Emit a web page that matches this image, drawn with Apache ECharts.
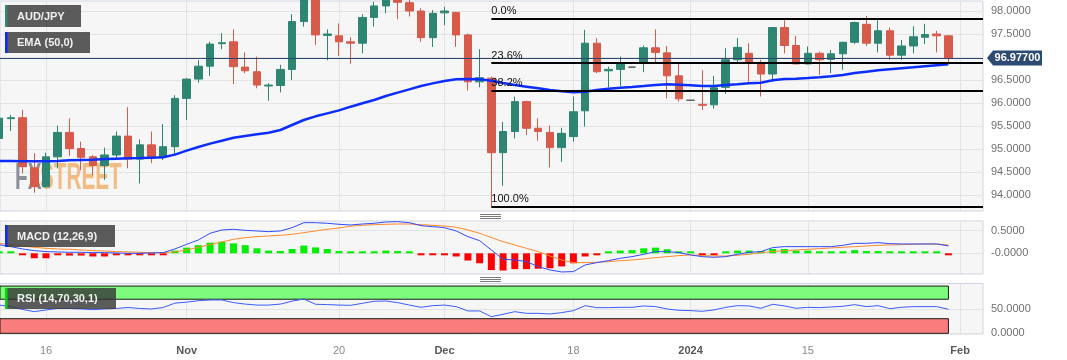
<!DOCTYPE html>
<html>
<head>
<meta charset="utf-8">
<script src="https://cdn.jsdelivr.net/npm/echarts@6.0.0/dist/echarts.min.js"></script>
<style>html,body{margin:0;padding:0;background:#fff}#c{width:1067px;height:360px}</style>
</head>
<body>
<div id="c"></div>
<script>
// ---------------- data ----------------
const dates = ['2023-10-10','2023-10-11','2023-10-12','2023-10-13','2023-10-16','2023-10-17','2023-10-18','2023-10-19','2023-10-20','2023-10-23','2023-10-24','2023-10-25','2023-10-26','2023-10-27','2023-10-30','2023-10-31','2023-11-01','2023-11-02','2023-11-03','2023-11-06','2023-11-07','2023-11-08','2023-11-09','2023-11-10','2023-11-13','2023-11-14','2023-11-15','2023-11-16','2023-11-17','2023-11-20','2023-11-21','2023-11-22','2023-11-23','2023-11-24','2023-11-27','2023-11-28','2023-11-29','2023-11-30','2023-12-01','2023-12-04','2023-12-05','2023-12-06','2023-12-07','2023-12-08','2023-12-11','2023-12-12','2023-12-13','2023-12-14','2023-12-15','2023-12-18','2023-12-19','2023-12-20','2023-12-21','2023-12-22','2023-12-25','2023-12-26','2023-12-27','2023-12-28','2023-12-29','2024-01-01','2024-01-02','2024-01-03','2024-01-04','2024-01-05','2024-01-08','2024-01-09','2024-01-10','2024-01-11','2024-01-12','2024-01-15','2024-01-16','2024-01-17','2024-01-18','2024-01-19','2024-01-22','2024-01-23','2024-01-24','2024-01-25','2024-01-26','2024-01-29','2024-01-30','2024-01-31'];

const open = [95.23,95.66,95.68,94.59,94.18,94.83,95.36,95.01,94.83,94.64,
  94.87,95.28,94.78,95.09,94.82,95.05,96.10,96.52,96.80,97.29,
  97.33,96.78,96.68,96.37,96.38,96.73,97.77,98.35,97.47,97.46,
  97.33,97.30,97.86,98.11,98.30,98.18,98.00,97.42,97.96,97.97,
  97.48,96.46,96.54,94.92,95.38,96.03,95.45,95.36,95.03,95.27,
  95.83,97.30,96.70,96.73,96.78,96.88,97.20,97.09,96.59,96.06,
  95.97,95.96,96.34,96.94,97.08,96.85,96.63,97.64,97.25,96.85,
  97.08,96.95,97.07,97.32,97.71,97.30,97.57,97.04,97.24,97.43,
  97.50,97.46];
const high = [95.74,95.74,95.85,94.91,94.92,95.51,95.67,95.16,94.87,95.03,
  95.38,95.91,95.21,95.38,95.54,96.17,96.54,96.93,97.33,97.52,
  97.60,97.10,97.01,96.43,96.83,97.93,98.45,98.55,97.60,97.73,
  97.43,97.93,98.20,98.40,98.45,98.30,98.06,98.02,98.09,97.98,
  97.51,97.17,96.57,95.59,96.14,96.05,95.67,95.51,95.46,96.14,
  97.59,97.41,96.79,97.01,96.78,97.25,97.60,97.24,96.88,96.06,
  96.71,96.59,97.19,97.41,97.30,96.94,97.65,97.80,97.46,97.23,
  97.12,97.15,97.33,97.77,97.89,97.80,97.64,97.37,97.67,97.72,
  97.57,97.48];
const low = [95.16,95.39,94.47,94.05,94.16,94.58,94.85,94.54,94.43,94.33,
  94.76,94.58,94.25,94.69,94.76,94.87,95.63,96.44,96.59,97.17,
  96.41,96.65,96.32,96.05,96.23,96.50,97.66,97.26,96.93,97.02,
  96.85,97.08,97.66,97.95,97.82,97.88,97.33,97.22,97.69,97.22,
  96.27,96.34,93.75,94.20,95.23,95.30,95.18,94.60,94.72,95.16,
  95.49,96.65,96.34,96.37,96.78,96.67,96.88,96.10,96.03,96.06,
  95.85,95.88,96.20,96.88,96.46,96.14,96.46,97.08,96.84,96.84,
  96.61,96.65,96.72,97.28,97.24,97.10,96.94,96.94,97.08,97.28,
  97.10,96.86];
const close = [95.67,95.68,94.62,94.18,94.83,95.36,95.01,94.82,94.64,94.87,
  95.28,94.78,95.09,94.82,95.05,96.10,96.52,96.80,97.28,97.31,
  96.79,96.70,96.39,96.39,96.73,97.77,98.35,97.48,97.50,97.33,
  97.30,97.86,98.11,98.30,98.19,98.00,97.42,97.95,98.00,97.48,
  96.46,96.55,94.92,95.38,96.03,95.45,95.38,95.03,95.34,95.81,
  97.30,96.68,96.73,96.85,96.78,97.20,97.10,96.59,96.09,96.06,
  95.95,96.33,96.94,97.21,96.88,96.63,97.64,97.25,96.85,97.08,
  96.94,97.07,97.32,97.75,97.30,97.57,97.04,97.24,97.44,97.49,
  97.46,96.977];
const ema50 = [94.739,94.739,94.732,94.732,94.732,94.739,94.754,94.761,94.768,94.783,
  94.790,94.797,94.804,94.812,94.819,94.877,94.964,95.043,95.116,95.181,
  95.246,95.283,95.319,95.355,95.413,95.522,95.630,95.710,95.775,95.840,
  95.920,95.993,96.065,96.152,96.225,96.297,96.369,96.427,96.478,96.514,
  96.522,96.514,96.485,96.435,96.391,96.355,96.319,96.283,96.254,96.232,
  96.246,96.283,96.311,96.333,96.348,96.369,96.391,96.406,96.398,96.384,
  96.369,96.369,96.391,96.406,96.427,96.442,96.493,96.522,96.529,96.543,
  96.558,96.580,96.609,96.652,96.681,96.710,96.732,96.754,96.775,96.797,
  96.819,96.840];
const macdLine = [0.19,0.147,0.096,0.059,0.037,0.03,0.022,0.022,0.015,0.015,
  0.007,0,0,0.007,0.015,0.096,0.199,0.294,0.441,0.515,
  0.53,0.507,0.493,0.478,0.493,0.566,0.676,0.676,0.662,0.64,
  0.625,0.647,0.662,0.691,0.699,0.676,0.61,0.588,0.566,0.493,
  0.368,0.279,0.074,-0.132,-0.147,-0.184,-0.294,-0.368,-0.412,-0.404,
  -0.257,-0.206,-0.162,-0.11,-0.074,-0.022,0.037,0.037,0.015,-0.037,
  -0.074,-0.088,-0.074,-0.022,0.022,0.037,0.125,0.147,0.147,0.147,
  0.147,0.147,0.176,0.22,0.22,0.235,0.213,0.206,0.206,0.206,
  0.206,0.162];
const signalLine = [0.22,0.19,0.162,0.132,0.11,0.096,0.088,0.074,0.059,0.051,
  0.037,0.03,0.022,0.015,0.015,0.03,0.074,0.132,0.191,0.25,
  0.309,0.346,0.368,0.382,0.397,0.419,0.456,0.493,0.53,0.559,
  0.6,0.618,0.632,0.64,0.647,0.647,0.632,0.618,0.603,0.574,
  0.515,0.441,0.346,0.257,0.184,0.11,0.037,-0.059,-0.147,-0.206,
  -0.206,-0.199,-0.184,-0.162,-0.147,-0.125,-0.096,-0.074,-0.051,-0.037,
  -0.051,-0.059,-0.059,-0.044,-0.022,0.015,0.037,0.059,0.074,0.088,
  0.103,0.118,0.132,0.147,0.162,0.176,0.184,0.191,0.199,0.206,
  0.206,0.184];
const histogram = [0.01,0.005,-0.03,-0.11,-0.11,-0.03,-0.05,-0.05,-0.07,-0.07,
  -0.02,-0.02,-0.02,-0.02,-0.02,0.06,0.125,0.18,0.235,0.257,
  0.22,0.18,0.11,0.06,0.05,0.095,0.17,0.13,0.095,0.05,
  0.035,0.02,0.02,0.06,0.05,0.02,-0.03,-0.03,-0.04,-0.07,
  -0.16,-0.22,-0.37,-0.38,-0.35,-0.35,-0.34,-0.33,-0.29,-0.22,
  -0.07,-0.01,0.03,0.06,0.07,0.11,0.125,0.09,0.04,0.01,
  -0.02,-0.02,0.01,0.06,0.06,0.05,0.095,0.095,0.06,0.06,
  0.035,0.035,0.035,0.07,0.05,0.05,0.01,0.01,0.01,0.01,
  0.005,-0.02];
const rsi = [58,55,49,44.5,48,51,51,50,48.6,50,
  51,53,51,50,53,62,64,67,68.5,68.5,
  63,60,58,58,60,66,70.5,59.6,59,58,
  57.5,61.6,65.8,66.4,63,58,53.4,56.8,58,54.8,
  45.9,45.9,34.2,39,44.5,41,41,39.7,42.5,46.6,
  56.8,52.7,52.7,53.4,53.4,56.2,54.8,50,47.3,46.6,
  45.2,48,53.4,56.8,56.2,51.4,59.6,56.2,51.4,53.4,
  52.7,54.1,55.5,58.9,54.8,56.8,50.7,53.4,54.8,54.8,
  54.8,49.3];

const xTickIdx = [4, 16, 29, 38, 49, 59, 69, 82];
const xTickLabels = ['16', 'Nov', '20', 'Dec', '18', '2024', '15', 'Feb'];
const xTickMajor = [false, true, false, true, false, true, false, true];
const priceTicks = [94, 94.5, 95, 95.5, 96, 96.5, 97, 97.5, 98];
const macdTicks = [0, 0.5];
const macdTickLabels = ['-0.0000', '0.5000'];
const rsiTicks = [0, 50];
const rsiTickLabels = ['0.0000', '50.0000'];
const fibHigh = 97.833, fibLow = 93.745, fibStartIdx = 42;
const fibPcts = [0, 23.6, 38.2, 100];
const lastPrice = 96.977;
const rsiUpper = 70, rsiBandTop = 97, rsiLower = 30, rsiBandBottom = 0;

// ---------------- chart ----------------
const FONT = '"Liberation Sans", Arial, sans-serif';
const GRID_LINE = '#e3e3e3';
const X_MIN = 0.075, X_MAX = 83.95;
const UP = '#2e8672', DOWN = '#d75a4a', FLAT = '#555555';

const fibLevels = fibPcts.map(p => fibHigh - (fibHigh - fibLow) * p / 100);

function xAxis(gi, labels) {
  return {
    type: 'value', gridIndex: gi, min: X_MIN, max: X_MAX,
    axisLine: { show: false },
    axisTick: { show: false, customValues: xTickIdx },
    splitLine: { show: true, lineStyle: { color: GRID_LINE, width: 1 } },
    axisLabel: {
      show: labels, customValues: xTickIdx, margin: 11,
      formatter: v => {
        const k = xTickIdx.indexOf(Math.round(v));
        if (k < 0) return '';
        return (xTickMajor[k] ? '{b|' : '{n|') + xTickLabels[k] + '}';
      },
      rich: {
        b: { fontFamily: FONT, fontSize: 11, fontWeight: 'bold', color: '#585858' },
        n: { fontFamily: FONT, fontSize: 11, color: '#8a8a8a' }
      }
    }
  };
}
function yAxis(gi, min, max, ticks, fmt) {
  return {
    type: 'value', gridIndex: gi, position: 'right', min, max, scale: true,
    axisLine: { show: false },
    axisTick: { show: false, customValues: ticks },
    splitLine: { show: true, lineStyle: { color: GRID_LINE, width: 1 } },
    axisLabel: { customValues: ticks, formatter: fmt, color: '#707070', fontSize: 11, fontFamily: FONT, margin: 8 }
  };
}
const gridBase = { left: 0, width: 983, show: true, backgroundColor: '#f6f6f6', borderColor: '#cfd5e2', borderWidth: 1 };

const candleData = dates.map((d, i) => {
  const item = { value: [i, open[i], close[i], low[i], high[i]] };
  if (open[i] === close[i] && high[i] === low[i]) {
    item.itemStyle = { color: FLAT, color0: FLAT, borderColor: FLAT, borderColor0: FLAT, borderColorDoji: FLAT };
  }
  return item;
});

function labelBox(x, y, w, h, bar, text) {
  return {
    type: 'group', x, y, z: 50, silent: true,
    children: [
      { type: 'rect', z: 50, shape: { x: 0, y: 0, width: w, height: h }, style: { fill: 'rgba(52,52,52,0.8)' } },
      { type: 'rect', z: 51, shape: { x: 0, y: 0, width: 2.5, height: h }, style: { fill: bar } },
      { type: 'text', z: 52, x: 12, y: h / 2 + 0.5, style: { text, fill: '#f0f0f0', font: 'bold 11px ' + FONT, verticalAlign: 'middle' } }
    ]
  };
}
const grips = [214, 216, 218, 277, 279, 281].map(y => ({
  type: 'line', z: 50, silent: true,
  shape: { x1: 480, y1: y + 0.5, x2: 501, y2: y + 0.5 },
  style: { stroke: '#7a7a7a', lineWidth: 1 }
}));

const WM_FONT = 'bold 37px "Liberation Sans Narrow", "Liberation Sans", sans-serif';
const option = {
  animation: false,
  backgroundColor: '#ffffff',
  grid: [
    Object.assign({}, gridBase, { top: 1, height: 210 }),
    Object.assign({}, gridBase, { top: 221, height: 53 }),
    Object.assign({}, gridBase, { top: 283.5, height: 50.5 })
  ],
  xAxis: [xAxis(0, false), xAxis(1, false), xAxis(2, true)],
  yAxis: [
    yAxis(0, 93.652, 98.2174, priceTicks, v => v.toFixed(4)),
    yAxis(1, -0.457, 0.713, macdTicks, v => macdTickLabels[macdTicks.indexOf(v)] || ''),
    yAxis(2, -1.4, 102.3, rsiTicks, v => rsiTickLabels[rsiTicks.indexOf(v)] || '')
  ],
  graphic: [
    {
      type: 'text', x: 15, y: 178.5, scaleX: 0.56, z: 1, silent: true,
      style: { text: 'FX', font: WM_FONT, fill: 'rgba(128,133,143,0.9)', verticalAlign: 'middle' }
    },
    {
      type: 'text', x: 40, y: 178.5, scaleX: 0.56, z: 1, silent: true,
      style: { text: 'STREET', font: WM_FONT, fill: 'rgba(240,172,100,0.8)', verticalAlign: 'middle' }
    },
    labelBox(5, 5, 76, 22, '#2e8b73', 'AUD/JPY'),
    labelBox(5, 32, 85, 21, '#0a2cff', 'EMA (50,0)'),
    labelBox(5, 225, 110, 22, '#0a2cff', 'MACD (12,26,9)'),
    labelBox(5, 288, 111, 21, '#00dd00', 'RSI (14,70,30,1)')
  ].concat(grips),
  series: [
    {
      type: 'candlestick', xAxisIndex: 0, yAxisIndex: 0, z: 3,
      encode: { x: 0, y: [1, 2, 3, 4] },
      barWidth: 8, clip: true,
      itemStyle: { color: UP, color0: DOWN, borderColor: UP, borderColor0: DOWN, borderColorDoji: FLAT, borderWidth: 1 },
      data: candleData
    },
    {
      type: 'line', xAxisIndex: 0, yAxisIndex: 0, z: 4,
      showSymbol: false, symbol: 'none', clip: true,
      lineStyle: { color: '#0b2dff', width: 2.5 },
      data: ema50.map((v, i) => [i, v]),
      markLine: {
        silent: true, animation: false, symbol: ['none', 'none'],
        data: [
          { yAxis: lastPrice, lineStyle: { color: '#2b4872', width: 1, type: 'solid' }, label: { show: false } }
        ].concat(fibLevels.map((lv, k) => [
          {
            coord: [fibStartIdx, lv],
            lineStyle: { color: '#000000', width: 2, type: 'solid' },
            label: { show: true, position: 'insideStartTop', formatter: fibPcts[k].toFixed(1) + '%', color: '#111', fontSize: 11, fontFamily: FONT, distance: [0, 2] }
          },
          { coord: [X_MAX, lv] }
        ]))
      },
      markPoint: {
        silent: true, animation: false,
        data: [{
          coord: [X_MAX, lastPrice],
          symbol: 'path://M0,7.5 L6,0 L55,0 L55,15 L6,15 Z',
          symbolSize: [55, 15], symbolOffset: [31.5, 0],
          itemStyle: { color: '#2c4a72' },
          label: { show: true, position: 'inside', offset: [3, 0], formatter: lastPrice.toFixed(5), color: '#ffffff', fontWeight: 'bold', fontSize: 11, fontFamily: FONT }
        }]
      }
    },
    {
      type: 'bar', xAxisIndex: 1, yAxisIndex: 1, z: 2,
      barWidth: 7, barMinHeight: 2,
      data: histogram.map((v, i) => ({ value: [i, v], itemStyle: { color: v >= 0 ? '#00f000' : '#ff0000' } }))
    },
    {
      type: 'line', xAxisIndex: 1, yAxisIndex: 1, z: 3, showSymbol: false, symbol: 'none',
      lineStyle: { color: '#ff8a2b', width: 1 },
      data: signalLine.map((v, i) => [i, v])
    },
    {
      type: 'line', xAxisIndex: 1, yAxisIndex: 1, z: 4, showSymbol: false, symbol: 'none',
      lineStyle: { color: '#2f4cff', width: 1 },
      data: macdLine.map((v, i) => [i, v])
    },
    {
      type: 'line', xAxisIndex: 2, yAxisIndex: 2, z: 4, showSymbol: false, symbol: 'none',
      lineStyle: { color: '#3a5cff', width: 1 },
      data: rsi.map((v, i) => [i, v]),
      markArea: {
        silent: true, animation: false,
        data: [
          [{ xAxis: 0, yAxis: rsiUpper, itemStyle: { color: '#7dfb7d', borderColor: '#1a1a1a', borderWidth: 1 } }, { xAxis: dates.length - 1, yAxis: rsiBandTop }],
          [{ xAxis: 0, yAxis: rsiBandBottom, itemStyle: { color: '#fa7d7d', borderColor: '#1a1a1a', borderWidth: 1 } }, { xAxis: dates.length - 1, yAxis: rsiLower }]
        ]
      }
    }
  ]
};

const chart = echarts.init(document.getElementById('c'), null, { renderer: 'canvas', width: 1067, height: 360 });
chart.setOption(option);
</script>
</body>
</html>
